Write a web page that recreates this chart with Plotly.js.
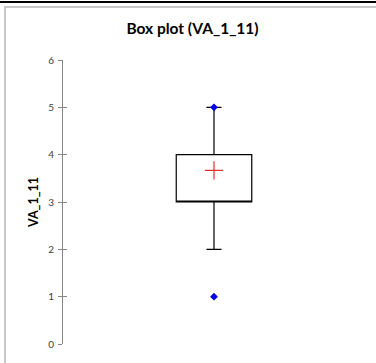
<!DOCTYPE html>
<html>
<head>
<meta charset="utf-8">
<script src="https://cdn.plot.ly/plotly-3.0.1.min.js"></script>
<style>
html,body{margin:0;padding:0;background:#fff;}
#wrap{position:relative;width:376px;height:363px;overflow:hidden;}
#chart{position:absolute;left:0;top:0;width:376px;height:363px;}
#topline{position:absolute;left:0;top:1px;width:376px;height:2px;background:#000;}
#frameTop{position:absolute;left:4px;top:6px;width:372px;height:2px;background:#c8c8c8;}
#frameLeft{position:absolute;left:4px;top:6px;width:2px;height:357px;background:#c8c8c8;}
</style>
</head>
<body>
<div id="wrap">
<div id="chart"></div>
<div id="topline"></div>
<div id="frameTop"></div>
<div id="frameLeft"></div>
</div>
<script>
// Data
const variableName = "VA_1_11";
const q1 = [3];
const median = [3];
const q3 = [4];
const lowerWhisker = [2];
const upperWhisker = [5];
const meanValue = [3.67];
const extremePoints = [5, 1];   // max (5) and outlier/min (1)
const tickValues = [0, 1, 2, 3, 4, 5, 6];
const tickLabels = ["0", "1", "2", "3", "4", "5", "6"];

const boxTrace = {
  type: 'box',
  x: [0],
  q1: q1, median: median, q3: q3,
  lowerfence: lowerWhisker, upperfence: upperWhisker,
  width: 0.5,
  whiskerwidth: 0.2,
  fillcolor: '#ffffff',
  line: {color: '#000000', width: 1.2},
  boxpoints: false,
  hoverinfo: 'skip',
  showlegend: false
};

const pointsTrace = {
  type: 'scatter', mode: 'markers',
  x: extremePoints.map(() => 0),
  y: extremePoints,
  marker: {symbol: 'diamond', color: '#0000ee', size: 6},
  showlegend: false
};

const meanTrace = {
  type: 'scatter', mode: 'markers',
  x: [0], y: meanValue,
  marker: {symbol: 'cross-thin', size: 13, line: {color: '#e03030', width: 1.2}},
  showlegend: false
};

// inside ticks on an overlaying axis so the ticks cross the axis line
const tickHelper = {
  type: 'scatter', mode: 'markers', x: [0], y: [0], yaxis: 'y2',
  marker: {opacity: 0}, showlegend: false, hoverinfo: 'skip'
};

const layout = {
  width: 376, height: 363,
  margin: {l: 63, r: 11, t: 60, b: 19},
  paper_bgcolor: '#ffffff', plot_bgcolor: '#ffffff',
  title: {
    text: '<b>Box plot (' + variableName + ')</b>',
    font: {family: 'Lato, "Open Sans", sans-serif', size: 15.5, color: '#000'},
    xref: 'container', x: 0.512, xanchor: 'center',
    yref: 'container', y: 0.922, yanchor: 'middle'
  },
  xaxis: {range: [-1, 1], visible: false, fixedrange: true},
  yaxis: {
    range: [0, 6],
    tickvals: tickValues, ticktext: tickLabels,
    showgrid: false, zeroline: false,
    showline: true, linecolor: '#868686', linewidth: 1,
    ticks: 'outside', ticklen: 4, tickcolor: '#868686', tickwidth: 1,
    ticklabelstandoff: 2,
    tickfont: {family: 'Lato, "Open Sans", sans-serif', size: 10, color: '#404040'},
    title: {text: '<b>' + variableName + '</b>', font: {family: 'Lato, "Open Sans", sans-serif', size: 12.5, color: '#000'}, standoff: 6},
    automargin: false
  },
  yaxis2: {
    range: [0, 6], overlaying: 'y', side: 'left',
    tickvals: tickValues, showticklabels: false,
    ticks: 'inside', ticklen: 4, tickcolor: '#868686', tickwidth: 1,
    showgrid: false, zeroline: false, showline: false
  },
  showlegend: false
};

Plotly.newPlot('chart', [boxTrace, pointsTrace, meanTrace, tickHelper], layout, {staticPlot: true, displayModeBar: false});
</script>
</body>
</html>
